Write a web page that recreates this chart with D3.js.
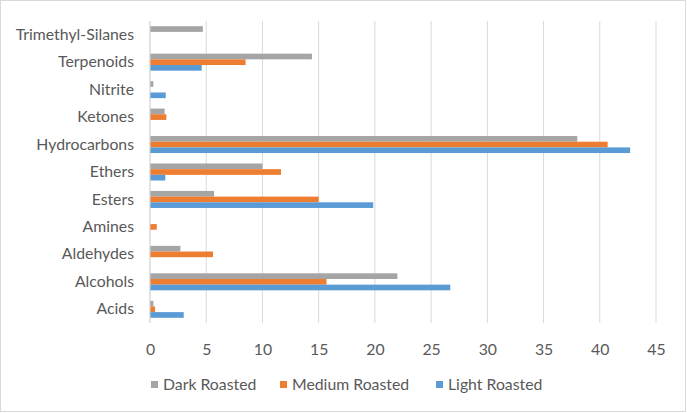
<!DOCTYPE html>
<html>
<head>
<meta charset="utf-8">
<script src="https://cdn.jsdelivr.net/npm/d3@7"></script>
<style>
  html, body { margin: 0; padding: 0; background: #fff; }
  svg { display: block; }
  text { font-family: Lato, "Open Sans", sans-serif; fill: #595959; }
</style>
</head>
<body>
<svg id="chart" width="687" height="413"></svg>
<script>
const categories = ["Acids","Alcohols","Aldehydes","Amines","Esters","Ethers","Hydrocarbons","Ketones","Nitrite","Terpenoids","Trimethyl-Silanes"];
const seriesNames = ["Dark Roasted","Medium Roasted","Light Roasted"];
const darkRoasted   = [0.3, 22.0, 2.7, 0, 5.7, 10.0, 38.0, 1.3, 0.3, 14.4, 4.7];
const mediumRoasted = [0.45, 15.7, 5.6, 0.6, 15.0, 11.65, 40.7, 1.45, 0, 8.5, 0];
const lightRoasted  = [3.0, 26.7, 0, 0, 19.85, 1.36, 42.7, 0, 1.4, 4.6, 0];
const xTicks = [0,5,10,15,20,25,30,35,40,45];
const colors = ["#a5a5a5","#ed7d31","#5b9bd5"];
const fontSize = "15.8px";

const svg = d3.select("#chart");
svg.append("rect").attr("x",0.5).attr("y",0.5).attr("width",685).attr("height",411)
  .attr("fill","#fff").attr("stroke","#d9d9d9");

const mLeft = 150, mRight = 656, mTop = 21, mBottom = 323;
const x = d3.scaleLinear().domain([0,45]).range([mLeft,mRight]);
const y = d3.scaleBand().domain(categories.slice().reverse()).range([mTop,mBottom])
  .paddingInner(0.38).paddingOuter(0.19);
const ys = d3.scaleBand().domain(seriesNames).range([0,y.bandwidth()]);

// gridlines
svg.append("g").selectAll("line").data(xTicks).join("line")
  .attr("x1",d=>x(d)).attr("x2",d=>x(d)).attr("y1",mTop).attr("y2",mBottom)
  .attr("stroke","#d9d9d9").attr("stroke-width",1);

const data = [darkRoasted, mediumRoasted, lightRoasted];
seriesNames.forEach((s,si)=>{
  svg.append("g").selectAll("rect").data(categories).join("rect")
    .attr("x",x(0))
    .attr("y",c=>y(c)+ys(s))
    .attr("width",(c,i)=>x(data[si][i])-x(0))
    .attr("height",ys.bandwidth())
    .attr("fill",colors[si]);
});

// y axis line
svg.append("line").attr("x1",x(0)).attr("x2",x(0)).attr("y1",mTop).attr("y2",mBottom)
  .attr("stroke","#d9d9d9");

// x axis labels
const xAxis = d3.axisBottom(x).tickValues(xTicks).tickSize(0).tickPadding(21);
const gx = svg.append("g").attr("transform",`translate(0,${mBottom})`).call(xAxis);
gx.select(".domain").remove();
gx.selectAll("text").style("font-size",fontSize).style("font-family","Lato, sans-serif").attr("fill","#595959");

// y axis labels
const yAxis = d3.axisLeft(y).tickSize(0).tickPadding(16);
const gy = svg.append("g").attr("transform",`translate(${mLeft},0)`).call(yAxis);
gy.select(".domain").remove();
gy.selectAll("text").style("font-size",fontSize).style("font-family","Lato, sans-serif").attr("fill","#595959");

// legend
const legendX = [151, 280, 436];
const lg = svg.append("g");
seriesNames.forEach((s,i)=>{
  lg.append("rect").attr("x",legendX[i]).attr("y",381).attr("width",7).attr("height",7).attr("fill",colors[i]);
  lg.append("text").attr("x",legendX[i]+12).attr("y",384).attr("dy","0.35em")
    .style("font-size",fontSize).text(s);
});
</script>
</body>
</html>
